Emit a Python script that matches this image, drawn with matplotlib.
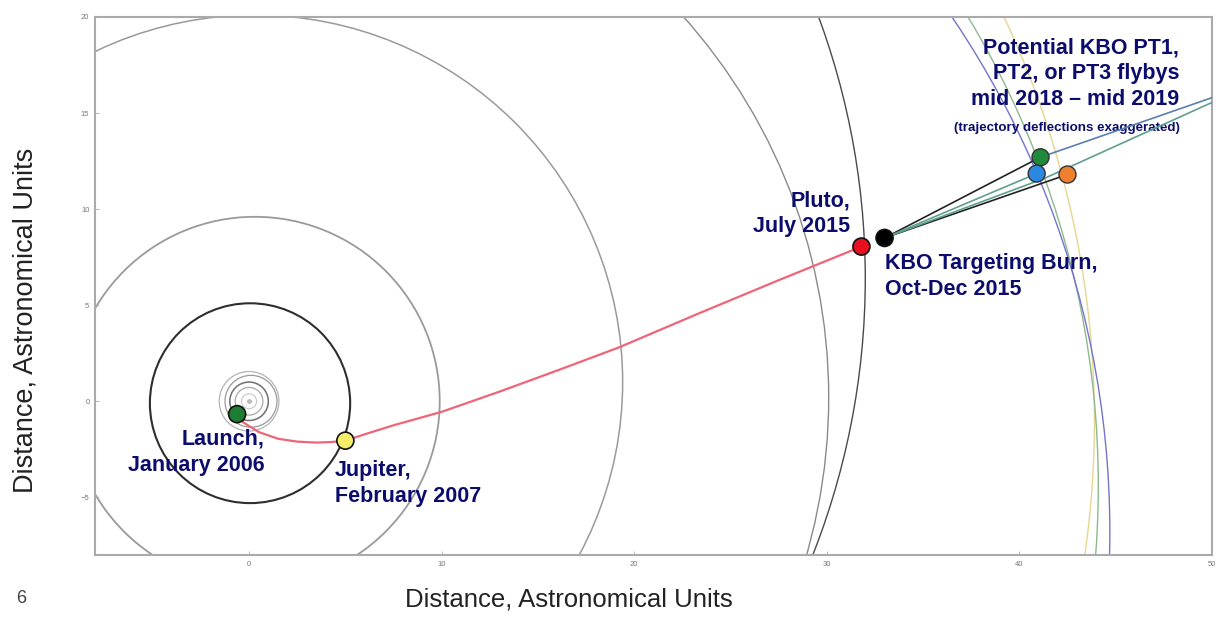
import matplotlib
matplotlib.use("Agg")
import matplotlib.pyplot as plt
from matplotlib.patches import Circle

# orbits: centre x, centre y, radius (AU), line colour, line width
orbit_cx = [0.0, 0.0, 0.0, 0.1, 0.0, 0.05, 0.3, 0.3, 0.3, -7.4, -5.4, -3.3, -3.2]
orbit_cy = [0.0, 0.0, 0.0, 0.0, 0.0, -0.1, 0.0, 1.0, 0.2, 6.4, -1.0, -4.4, -6.8]
orbit_r = [0.39, 0.72, 1.0, 1.35, 1.55, 5.2, 9.6, 19.1, 29.8, 39.4, 49.3, 47.4, 47.9]
orbit_colors = ["#c8c8c8", "#a8a8a8", "#707070", "#9a9a9a", "#b4b4b4", "#2e2e2e",
                "#9a9a9a", "#9a9a9a", "#8a8a8a", "#4a4a4a", "#e6d690", "#8cba8c", "#7474cc"]
orbit_lw = [0.8, 0.9, 1.1, 0.9, 0.9, 1.5, 1.3, 1.1, 1.0, 1.0, 1.0, 1.0, 1.0]

# New Horizons path, launch -> Jupiter -> Pluto
traj_x = [-0.62, -0.3, 0.5, 1.5, 2.5, 3.5, 4.3, 5.0, 6.0, 7.5, 10.0, 13.0, 16.0, 19.2, 23.3, 27.5, 31.8]
traj_y = [-0.67, -1.1, -1.6, -1.95, -2.1, -2.15, -2.12, -2.05, -1.72, -1.25, -0.55, 0.5, 1.6, 2.8, 4.55, 6.3, 8.05]

# events: launch, Jupiter, Pluto, targeting burn
event_x = [-0.62, 5.0, 31.8, 33.0]
event_y = [-0.67, -2.05, 8.05, 8.5]
event_colors = ["#1e7d32", "#f4ee6a", "#e81020", "#000000"]

# potential KBO flyby points PT1 / PT2 / PT3
kbo_x = [41.1, 40.9, 42.5]
kbo_y = [12.7, 11.85, 11.8]
kbo_colors = ["#1f8a3a", "#2a88e0", "#f08030"]

# outbound legs after the burn
leg_x = [[33.0, 40.8], [33.0, 42.2], [33.0, 40.9], [33.0, 41.3, 50.0], [41.1, 50.0]]
leg_y = [[8.5, 12.55], [8.5, 11.7], [8.5, 11.85], [8.5, 11.6, 15.55], [12.7, 15.8]]
leg_colors = ["#222222", "#222222", "#5f9f8f", "#5f9f8f", "#5a80b0"]

navy = "#0c0c6c"
plt.rcParams["font.family"] = ["Liberation Sans", "DejaVu Sans"]

fig = plt.figure(figsize=(12.18, 6.17), dpi=100)
ax = fig.add_axes([0.078, 0.1005, 0.917, 0.872])

for cx, cy, r, c, lw in zip(orbit_cx, orbit_cy, orbit_r, orbit_colors, orbit_lw):
    ax.add_patch(Circle((cx, cy), r, fill=False, ec=c, lw=lw))

ax.plot([0], [0], marker="o", ms=2.5, color="#bbbbbb", zorder=3)
ax.plot(traj_x, traj_y, color="#f06478", lw=1.6, zorder=4)

for lx, ly, c in zip(leg_x, leg_y, leg_colors):
    ax.plot(lx, ly, color=c, lw=1.2, zorder=4)

ax.scatter(event_x, event_y, s=150, c=event_colors, edgecolors="#111111", linewidths=1.2, zorder=6)
ax.scatter(kbo_x, kbo_y, s=150, c=kbo_colors, edgecolors="#333333", linewidths=1.0, zorder=6)

lab = dict(color=navy, fontsize=15.5, fontweight="bold", linespacing=1.3)
ax.text(0.8, -2.65, "Launch,\nJanuary 2006", ha="right", va="center", **lab)
ax.text(4.45, -4.3, "Jupiter,\nFebruary 2007", ha="left", va="center", **lab)
ax.text(31.2, 9.75, "Pluto,\nJuly 2015", ha="right", va="center", **lab)
ax.text(33.0, 6.5, "KBO Targeting Burn,\nOct-Dec 2015", ha="left", va="center", **lab)
ax.text(48.3, 17.05, "Potential KBO PT1,\nPT2, or PT3 flybys\nmid 2018 \u2013 mid 2019",
        ha="right", va="center", **lab)
ax.text(48.35, 14.2, "(trajectory deflections exaggerated)", ha="right", va="center",
        color=navy, fontsize=9.6, fontweight="bold")

ax.set_xlim(-8, 50)
ax.set_ylim(-8, 20)
ax.set_xticks([0, 10, 20, 30, 40, 50])
ax.set_yticks([-5, 0, 5, 10, 15, 20])
ax.tick_params(direction="in", length=3, width=0.6, colors="#aaaaaa", labelsize=5.5,
               labelcolor="#777777", pad=4)
for s in ax.spines.values():
    s.set_color("#aaaaaa")
    s.set_linewidth(1.5)

fig.text(0.467, 0.028, "Distance, Astronomical Units", ha="center", va="center",
         fontsize=18.5, color="#222222")
fig.text(0.021, 0.48, "Distance, Astronomical Units", ha="center", va="center",
         rotation=90, fontsize=19.5, color="#222222")
fig.text(0.017, 0.030, "6", ha="center", va="center", fontsize=13, color="#444444")

fig.savefig("out.png", dpi=100)
plt.close(fig)
